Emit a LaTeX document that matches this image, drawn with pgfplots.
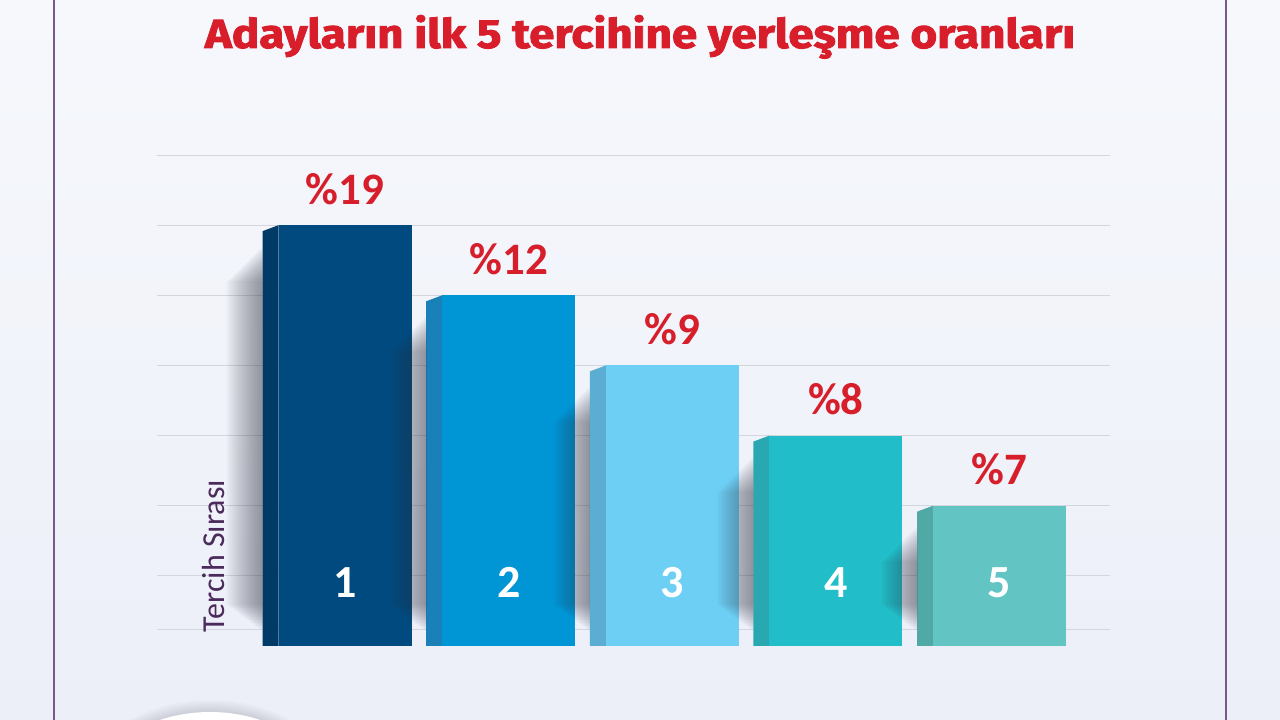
\documentclass[border=0pt]{standalone}
\usepackage{fontspec}
\usepackage{graphicx}
\usepackage{pgfplots}
\pgfplotsset{compat=1.18}
\newfontfamily\carlito{Carlito}
\newfontfamily\firatitle{Fira Sans}[BoldFeatures={FakeBold=2}]
\definecolor{bgtop}{HTML}{F6F8FC}
\definecolor{bgbot}{HTML}{ECEFF8}
\definecolor{bordercol}{HTML}{7B5790}
\definecolor{titlered}{HTML}{D81E2B}
\definecolor{valred}{HTML}{D61F2B}
\definecolor{labpurple}{HTML}{4B2A5C}
\definecolor{gridcol}{HTML}{D4D6DE}
\definecolor{shadowcol}{HTML}{2A2D3C}
\definecolor{fA}{HTML}{014A7F}\definecolor{sA}{HTML}{003A66}
\definecolor{fB}{HTML}{0096D6}\definecolor{sB}{HTML}{1A80B8}
\definecolor{fC}{HTML}{6ECFF5}\definecolor{sC}{HTML}{5BADD3}
\definecolor{fD}{HTML}{21BEC9}\definecolor{sD}{HTML}{29A8B2}
\definecolor{fE}{HTML}{63C5C3}\definecolor{sE}{HTML}{50A9A5}
\begin{document}
\begin{tikzpicture}[x=1pt,y=1pt]
\useasboundingbox (0,0) rectangle (1280,720);
\begin{scope}
\clip (0,0) rectangle (1280,720);
\shade[top color=bgtop, bottom color=bgbot] (0,0) rectangle (1280,720);
\draw[bordercol, line width=2pt] (54,0) -- (54,720);
\draw[bordercol, line width=2pt] (1226,0) -- (1226,720);
\foreach \r in {172,170,168,166,164,162} {\fill[black, opacity=0.018] (210,-152) circle (\r);}
\fill[white] (210,-152) circle (160);
\end{scope}
\node[anchor=base, text=titlered, inner sep=0pt] at (640,672) {\resizebox{870pt}{33pt}{\firatitle\bfseries Adayların ilk 5 tercihine yerleşme oranları}};
\begin{axis}[
  at={(157pt,74pt)}, anchor=south west, scale only axis,
  width=953pt, height=491pt,
  xmin=-0.1009, xmax=5.7243, ymin=0, ymax=7,
  ytick={0.242,1,2,3,4,5,6,7}, yticklabels={},
  ymajorgrids, grid style={color=gridcol, line width=1pt},
  xtick=\empty,
  axis line style={draw=none}, tick style={draw=none},
  every node near coord/.append style={anchor=base, xshift=8pt, yshift=21pt, inner sep=0pt, text=valred,
     font=\carlito\bfseries\fontsize{45}{45}\selectfont},
]
\addplot[fill=sA, draw=none] coordinates {(0.5446,0) (0.5446,5.9145) (0.6424,6) (0.6424,0)} -- cycle;
\addplot[ybar, bar width=133pt, bar shift=8pt, fill=fA, draw=none, nodes near coords={\%19}] coordinates {(1,6)};
\addplot[fill=sB, draw=none] coordinates {(1.5446,0) (1.5446,4.9145) (1.6424,5) (1.6424,0)} -- cycle;
\addplot[ybar, bar width=133pt, bar shift=8pt, fill=fB, draw=none, nodes near coords={\%12}] coordinates {(2,5)};
\addplot[fill=sC, draw=none] coordinates {(2.5446,0) (2.5446,3.9145) (2.6424,4) (2.6424,0)} -- cycle;
\addplot[ybar, bar width=133pt, bar shift=8pt, fill=fC, draw=none, nodes near coords={\%9}] coordinates {(3,4)};
\addplot[fill=sD, draw=none] coordinates {(3.5446,0) (3.5446,2.9145) (3.6424,3) (3.6424,0)} -- cycle;
\addplot[ybar, bar width=133pt, bar shift=8pt, fill=fD, draw=none, nodes near coords={\%8}] coordinates {(4,3)};
\addplot[fill=sE, draw=none] coordinates {(4.5446,0) (4.5446,1.9145) (4.6424,2) (4.6424,0)} -- cycle;
\addplot[ybar, bar width=133pt, bar shift=8pt, fill=fE, draw=none, nodes near coords={\%7}] coordinates {(5,2)};
\end{axis}
% soft drop shadows to the left of each bar (decoration)
\foreach \L/\T in {262.6/494.8, 426.2/424.7, 589.8/354.6, 753.4/284.4, 917.0/214.3} {
  \foreach \k in {1,...,18} {
    \fill[shadowcol, opacity=0.03, rounded corners=1pt] (\L-2*\k,74+14+1.5*\k) rectangle (\L,\T-20-2*\k);
  }
}
\begin{axis}[
  at={(157pt,74pt)}, anchor=south west, scale only axis,
  width=953pt, height=491pt,
  xmin=-0.1009, xmax=5.7243, ymin=0, ymax=7,
  xtick={1.0489,2.0489,3.0489,4.0489,5.0489}, xticklabels={1,2,3,4,5},
  xticklabel style={anchor=base, yshift=48pt, inner sep=0pt, text=white,
     font=\carlito\bfseries\fontsize{46}{46}\selectfont},
  ytick=\empty,
  axis line style={draw=none}, tick style={draw=none},
  ylabel={Tercih Sırası},
  ylabel style={at={(axis description cs:0.0598,0.1833)}, anchor=center, text=labpurple,
     font=\carlito\fontsize{32}{32}\selectfont},
]
\end{axis}
\end{tikzpicture}
\end{document}
